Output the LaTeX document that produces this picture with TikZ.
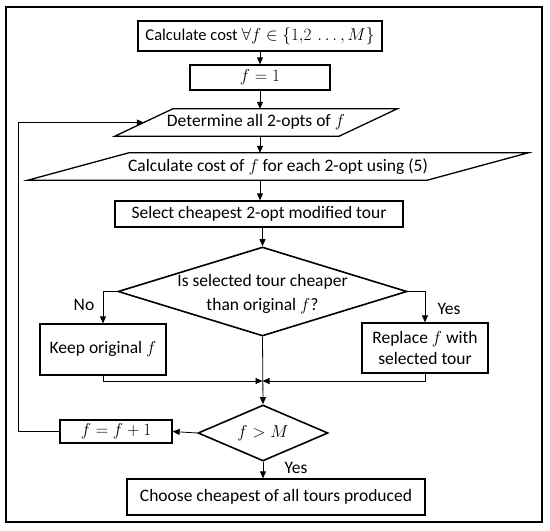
\documentclass[tikz,border=0pt]{standalone}
\usepackage{fontspec}
\setmainfont{Carlito}
\usetikzlibrary{arrows.meta,positioning,shapes.geometric,calc}

\begin{document}
\begin{tikzpicture}[x=1pt,y=-1pt,
  procbox/.style={draw,line width=1.3pt,inner sep=2pt,font=\fontsize{17.5}{21}\selectfont,align=center},
  slantbox/.style={inner sep=0pt,minimum height=27pt,font=\fontsize{17.5}{21}\selectfont},
  decision/.style={diamond,draw,line width=1.6pt,inner sep=-4pt,font=\fontsize{17.5}{24}\selectfont,align=center},
  flow/.style={-{Triangle[length=7pt,width=6pt]},line width=0.8pt},
  lbl/.style={font=\fontsize{17.5}{21}\selectfont}]
  \useasboundingbox (0,0) rectangle (550,531);
  % Frame
  \draw[line width=1.8pt] (6,7) rectangle (542,522);
  % Steps
  \node[procbox,minimum width=244pt,minimum height=30pt,font=\fontsize{16.5}{20}\selectfont] (calc) at (260,36) {Calculate cost $\forall f \in \{1{,}2\,\ldots, M\}$};
  \node[procbox,minimum width=140pt,minimum height=25pt] (init) at (260,77.5) {$f = 1$};
  \node[slantbox,minimum width=224pt] (det) at (256,122.5) {Determine all 2-opts of $f$};
  \draw[line width=1.3pt] ($(det.south west)+(-29,0)$) -- ($(det.north west)+(29,0)$)
    -- ($(det.north east)+(29,0)$) -- ($(det.south east)+(-29,0)$) -- cycle;
  \node[slantbox,minimum width=399pt] (cost) at (278,166.5) {Calculate cost of $f$ for each 2-opt using (5)};
  \draw[line width=1.3pt] ($(cost.south west)+(-50.5,0)$) -- ($(cost.north west)+(50.5,0)$)
    -- ($(cost.north east)+(50.5,0)$) -- ($(cost.south east)+(-50.5,0)$) -- cycle;
  \node[procbox,minimum width=288pt,minimum height=26pt] (sel) at (259,214) {Select cheapest 2-opt modified tour};
  % Comparison
  \node[decision,minimum width=289pt,minimum height=89pt,aspect=3.25] (cmp) at (262.5,291.5) {\strut Is selected tour cheaper\\than original $f$?};
  \node[procbox,minimum width=126pt,minimum height=51pt] (keep) at (103,349.5) {Keep original $f$};
  \node[procbox,minimum width=126pt,minimum height=50pt] (repl) at (425,348) {Replace $f$ with\\selected tour};
  \coordinate (merge) at (262.5,381);
  \node[lbl] (no) at (84,305) {No};
  \node[lbl] (yes1) at (449,309) {Yes};
  % Loop test
  \node[decision,minimum width=130pt,minimum height=56pt,aspect=2.3] (gt) at (263,433) {$f > M$};
  \node[procbox,minimum width=112pt,minimum height=23pt] (inc) at (116,431.5) {$f = f + 1$};
  \node[lbl] (yes2) at (296,468) {Yes};
  \coordinate (loopx) at (18,0);
  % Result
  \node[procbox,minimum width=298pt,minimum height=36pt] (final) at (276,497) {Choose cheapest of all tours produced};
  % Arrows
  \draw[flow] (calc.south) -- (calc.south |- init.north);
  \draw[flow] (init.south) -- (init.south |- det.north);
  \draw[flow] (det.south -| init.south) -- (init.south |- cost.north);
  \draw[flow] (cost.south -| init.south) -- (init.south |- sel.north);
  \draw[flow] (sel.south -| cmp.north) -- (cmp.north);
  \draw[flow] (cmp.west) -| (keep.north);
  \draw[flow] (cmp.east) -| (repl.north);
  \draw[flow] (keep.south) |- (merge);
  \draw[flow] (repl.south) |- (merge);
  \draw[flow] (cmp.south) -- (gt.north);
  \draw[flow] (gt.west) -- (inc.east);
  \draw[flow] (inc.west) -- (inc.west -| loopx) |- (det.west);
  \draw[flow] (gt.south) -- (gt.south |- final.north);
\end{tikzpicture}
\end{document}
